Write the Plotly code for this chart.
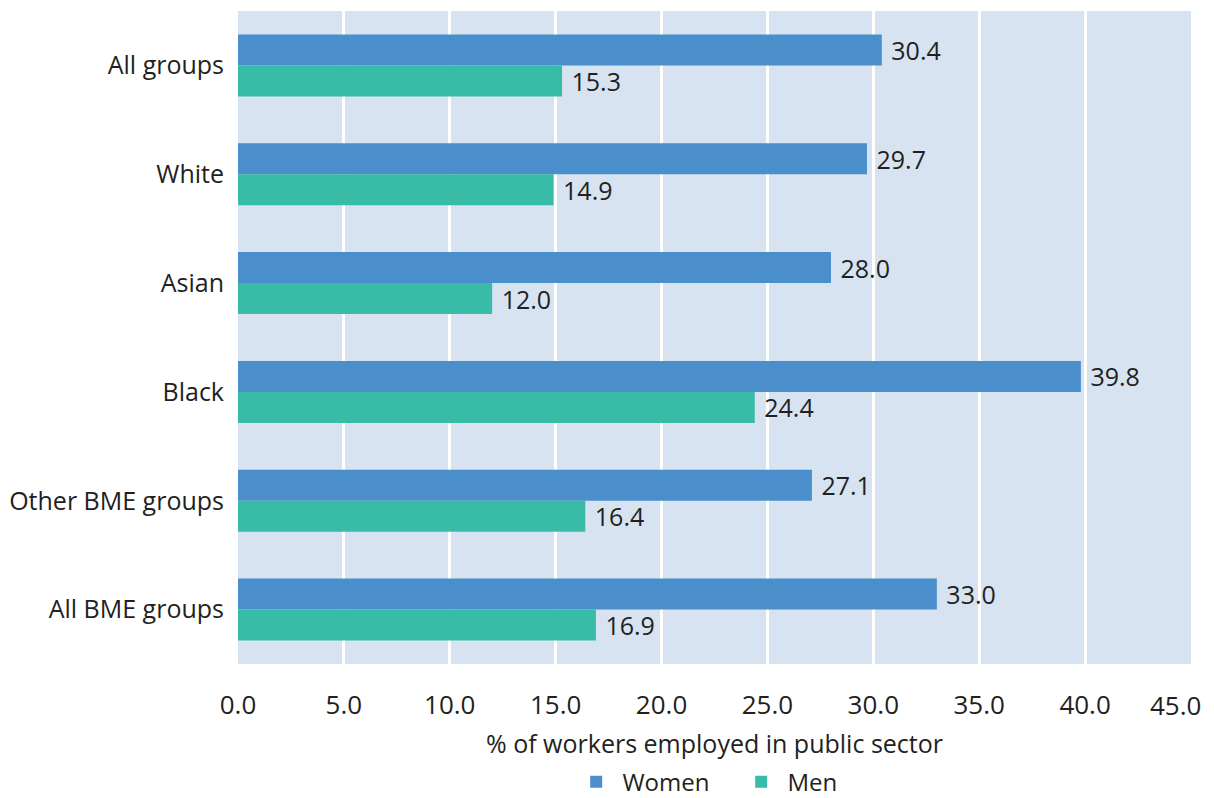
import plotly.graph_objects as go

categories = ["All groups", "White", "Asian", "Black", "Other BME groups", "All BME groups"]
women = [30.4, 29.7, 28.0, 39.8, 27.1, 33.0]
men = [15.3, 14.9, 12.0, 24.4, 16.4, 16.9]
tick_vals = [0, 5, 10, 15, 20, 25, 30, 35, 40, 45]

FONT = "Open Sans"
TXT = "#231F20"
NB = "\u00a0"

tick_text = [f"{v:.1f}" for v in tick_vals]
last_label = tick_text[-1]
tick_text[-1] = ""  # last label drawn as an annotation, pulled inward like the reference

fig = go.Figure()
for name, vals, col in [("Women", women, "#4A8FCC"), ("Men", men, "#38BCA8")]:
    fig.add_trace(go.Bar(
        y=categories, x=vals, orientation="h", name=NB + name,
        marker=dict(color=col, line=dict(width=0)),
        text=[f" {v:.1f}" for v in vals], textposition="outside",
        textfont=dict(size=25, color=TXT, family=FONT), cliponaxis=False,
        constraintext="none",
    ))

fig.add_annotation(x=tick_vals[-1], xref="x", y=0, yref="paper",
                   text=last_label, showarrow=False,
                   xanchor="right", yanchor="middle", xshift=12, yshift=-41,
                   font=dict(size=26, family=FONT, color=TXT))

# page body has ~8px margin; figure sized to fit inside the 1214x798 viewport
fig.update_layout(
    width=1206, height=790,
    margin=dict(l=230, r=23, t=3, b=134, autoexpand=False),
    barmode="group", bargap=0.43, bargroupgap=0,
    plot_bgcolor="#D8E3F2", paper_bgcolor="white",
    font=dict(family=FONT, color=TXT, size=24),
    showlegend=True,
    legend=dict(orientation="h", x=0.528, xanchor="center", y=-0.1809, yanchor="middle",
                font=dict(size=24, family=FONT, color=TXT),
                entrywidth=120, entrywidthmode="pixels",
                traceorder="normal"),
    xaxis=dict(range=[0, 45], tickvals=tick_vals, ticktext=tick_text,
               showgrid=True, gridcolor="white", gridwidth=3,
               zeroline=False, showline=False, ticks="", automargin=False,
               ticklabeloverflow="allow",
               tickfont=dict(size=26, family=FONT, color=TXT), ticklabelstandoff=23,
               title=dict(text="% of workers employed in public sector",
                          font=dict(size=25, family=FONT, color=TXT), standoff=14)),
    yaxis=dict(autorange="reversed", showgrid=False, zeroline=False, ticks="",
               automargin=False,
               tickfont=dict(size=25, family=FONT, color=TXT), ticklabelstandoff=13),
)

fig.write_html("out.html")
